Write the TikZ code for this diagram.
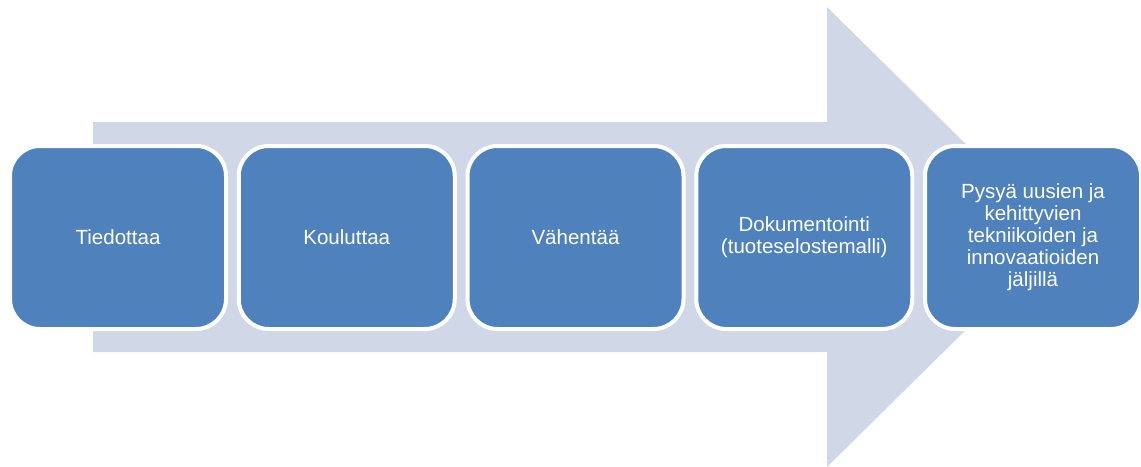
\documentclass[tikz,border=0pt]{standalone}
\usepackage{fontspec}
\setmainfont{Liberation Sans}
\definecolor{boxblue}{HTML}{4F81BD}
\definecolor{arrowgray}{HTML}{D0D8E8}
\begin{document}
\begin{tikzpicture}[x=0.75pt,y=-0.75pt,
  stepbox/.style={draw=white, line width=3pt, fill=boxblue, rounded corners=22.5pt,
    minimum width=162pt, minimum height=137.25pt, inner sep=0pt,
    text=white, align=center,
    font=\fontsize{15.4pt}{16.5pt}\selectfont}]
\useasboundingbox (0,0) rectangle (1141,467);
\fill[arrowgray] (93,122) -- (827,122) -- (827,7) -- (1060,237) -- (827,467) -- (827,352) -- (93,352) -- cycle;
\node[stepbox] (b1) at (118,237.5) {Tiedottaa};
\node[stepbox] (b2) at (346.75,237.5) {Kouluttaa};
\node[stepbox] (b3) at (575.5,237.5) {Vähentää};
\node[stepbox] (b4) at (804.25,237.5) {Dokumentointi\\(tuoteselostemalli)};
\node[stepbox] (b5) at (1033,237.5) {Pysyä uusien ja\\kehittyvien\\tekniikoiden ja\\innovaatioiden\\jäljillä};
\end{tikzpicture}
\end{document}
